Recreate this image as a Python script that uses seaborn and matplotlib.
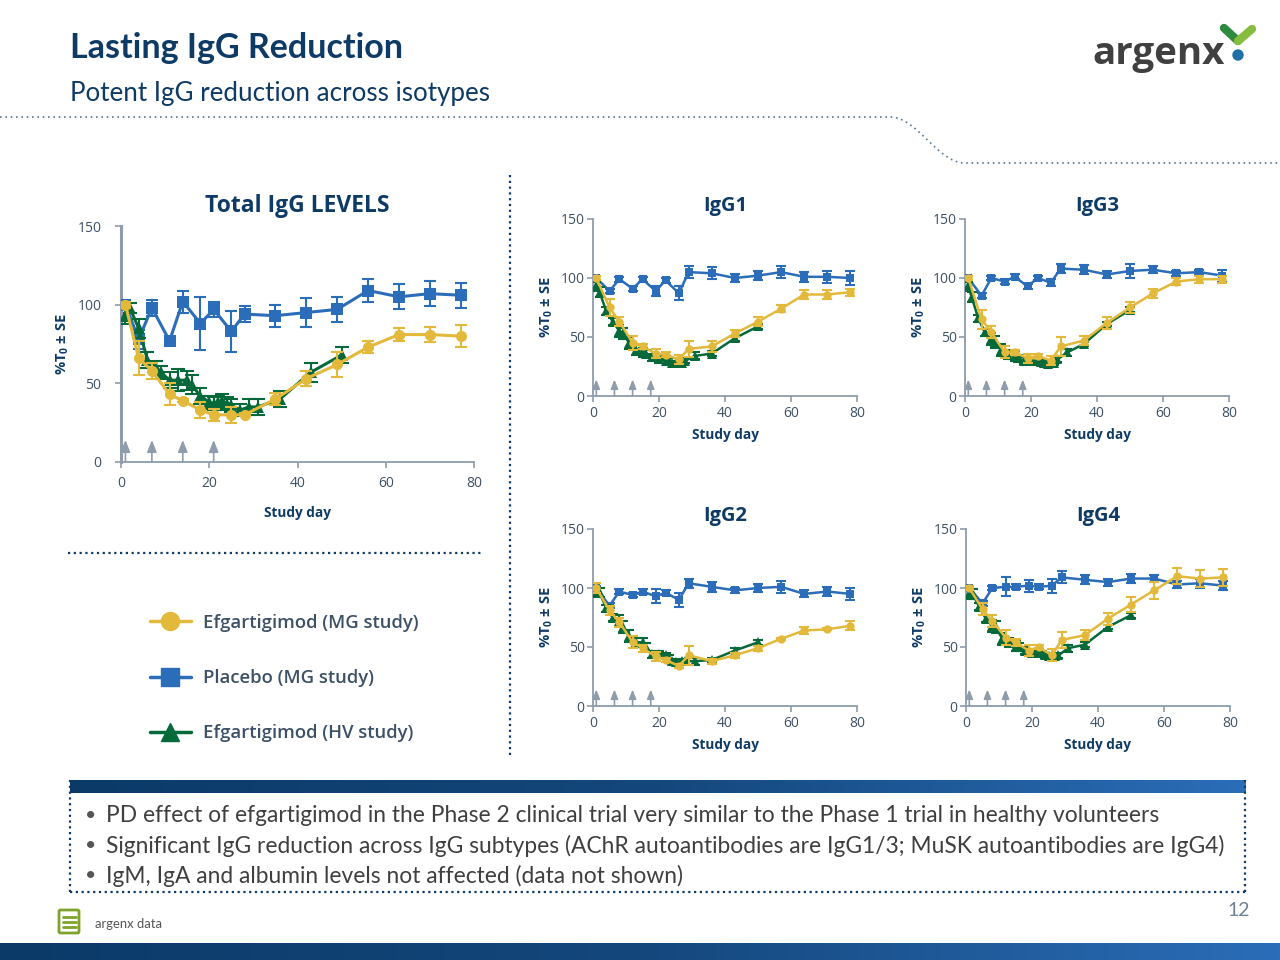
# -*- coding: utf-8 -*-
import numpy as np
import pandas as pd
import seaborn as sns
import matplotlib
matplotlib.use('Agg')
import matplotlib.pyplot as plt
from matplotlib.lines import Line2D
from matplotlib.patches import Circle, FancyBboxPatch
from matplotlib.colors import LinearSegmentedColormap

# days for each group
days_main = [1, 4, 7, 11, 14, 18, 21, 25, 28, 35, 42, 49, 56, 63, 70, 77]
days_sub = [1, 5, 8, 12, 15, 19, 22, 26, 29, 36, 43, 50, 57, 64, 71, 78]
days_hv_main = [1, 2, 4, 6, 8, 9, 11, 13, 15, 16, 18, 20, 21, 22, 23, 24, 25, 27, 29, 31, 36, 43, 50]
days_hv_sub = [1, 2, 4, 6, 8, 9, 11, 13, 15, 16, 18, 20, 22, 23, 24, 25, 27, 28, 31, 36, 43, 50]

# Total IgG
total_pbo = [100, 78, 98, 77, 102, 88, 97, 83, 94, 93, 95, 97, 109, 105, 107, 106]
total_pbo_se = [2, 6, 5, 2, 7, 17, 5, 13, 5, 7, 9, 8, 7, 8, 8, 8]
total_mg = [100, 66, 58, 43, 39, 33, 30, 30, 30, 40, 53, 62, 73, 81, 81, 80]
total_mg_se = [2, 11, 5, 7, 1, 5, 4, 5, 1, 4, 5, 8, 4, 4, 5, 7]
total_hv = [93, 98, 85, 65, 60, 57, 52, 52, 52, 49, 42, 38, 37, 38, 39, 37, 36, 33, 35, 35, 40, 57, 68]
total_hv_se = [5, 3, 6, 5, 4, 4, 5, 7, 6, 6, 5, 4, 4, 4, 4, 4, 4, 4, 5, 5, 5, 6, 5]

# IgG1
g1_pbo = [100, 89, 99, 91, 99, 89, 98, 87, 105, 104, 100, 102, 105, 101, 101, 100]
g1_pbo_se = [2, 2, 2, 2, 2, 4, 2, 6, 5, 5, 3, 4, 5, 4, 5, 6]
g1_mg = [100, 75, 63, 45, 42, 36, 35, 31, 40, 42, 53, 63, 74, 86, 86, 88]
g1_mg_se = [2, 7, 4, 6, 2, 4, 2, 4, 7, 5, 3, 4, 3, 4, 4, 3]
g1_hv = [93, 88, 72, 63, 55, 53, 45, 39, 37, 36, 33, 31, 30, 30, 28, 28, 28, 30, 34, 36, 49, 59]

# IgG3
g3_pbo = [100, 85, 100, 97, 101, 93, 100, 96, 108, 107, 103, 106, 107, 104, 105, 102]
g3_pbo_se = [2, 2, 2, 2, 2, 2, 2, 3, 4, 4, 3, 6, 3, 2, 2, 5]
g3_mg = [100, 65, 54, 37, 37, 32, 34, 30, 42, 47, 62, 75, 87, 97, 99, 99]
g3_mg_se = [2, 8, 5, 5, 2, 4, 2, 4, 8, 4, 5, 5, 4, 3, 3, 3]
g3_hv = [93, 84, 66, 54, 48, 46, 39, 35, 34, 32, 30, 30, 30, 29, 28, 27, 28, 31, 37, 44, 61, 73]

# IgG2
g2_pbo = [100, 85, 97, 94, 97, 93, 96, 90, 104, 101, 98, 100, 101, 95, 97, 95]
g2_pbo_se = [2, 2, 2, 2, 2, 6, 2, 6, 4, 4, 2, 3, 5, 3, 4, 5]
g2_mg = [100, 81, 71, 54, 49, 42, 39, 34, 43, 38, 43, 49, 57, 64, 65, 68]
g2_mg_se = [4, 4, 4, 5, 3, 4, 2, 2, 8, 2, 2, 2, 1, 3, 1, 4]
g2_hv = [96, 96, 83, 75, 72, 67, 59, 54, 54, 50, 44, 44, 43, 41, 38, 37, 38, 38, 38, 39, 47, 54]

# IgG4
g4_pbo = [100, 87, 100, 101, 101, 102, 101, 102, 109, 107, 105, 108, 108, 103, 104, 102]
g4_pbo_se = [2, 2, 2, 8, 2, 5, 2, 6, 5, 4, 3, 4, 3, 3, 4, 4]
g4_mg = [100, 82, 72, 58, 54, 47, 50, 43, 56, 60, 74, 86, 98, 110, 108, 109]
g4_mg_se = [2, 5, 5, 6, 3, 5, 2, 5, 7, 4, 5, 6, 7, 7, 7, 7]
g4_hv = [95, 95, 84, 74, 68, 67, 57, 54, 51, 50, 47, 45, 45, 45, 43, 42, 42, 43, 49, 52, 67, 77]
g_hv_se = [4, 4, 3, 3, 5, 5, 5, 4, 4, 3, 3, 3, 2, 2, 2, 2, 2, 2, 3, 2, 2, 2]

arrows_main = [1, 7, 14, 21]
arrows_sub = [1, 6.5, 12, 17.5]
x_ticks = [0, 20, 40, 60, 80]
y_ticks = [0, 50, 100, 150]

legend_labels = ['Efgartigimod (MG study)', 'Placebo (MG study)', 'Efgartigimod (HV study)']
bullets = ['PD effect of efgartigimod in the Phase 2 clinical trial very similar to the Phase 1 trial in healthy volunteers',
           'Significant IgG reduction across IgG subtypes (AChR autoantibodies are IgG1/3; MuSK autoantibodies are IgG4)',
           'IgM, IgA and albumin levels not affected (data not shown)']

YELLOW = '#E2B93B'
BLUE = '#2B6DB8'
GREEN = '#06693A'
NAVY = '#0E3A66'
GREY = '#8E9CAB'
TICK = '#3D5166'

sns.set_theme(style='white')
plt.rcParams['font.family'] = ['Open Sans', 'DejaVu Sans']
plt.rcParams['mathtext.fontset'] = 'custom'
plt.rcParams['mathtext.rm'] = 'Open Sans'
plt.rcParams['mathtext.bf'] = 'Open Sans:bold'

W, H = 1280, 960
fig = plt.figure(figsize=(12.8, 9.6), dpi=100, facecolor='white')

# page layer in pixel coordinates
bg = fig.add_axes([0, 0, 1, 1])
bg.axis('off')

band = LinearSegmentedColormap.from_list('band', ['#0B3A68', '#14477C', '#2B6DB8'])
grad = np.linspace(0, 1, 256).reshape(1, -1)
bg.imshow(grad, extent=(70, 1246, 793, 780), cmap=band, aspect='auto', zorder=1)
bg.imshow(grad, extent=(0, 1280, 960, 943), cmap=band, aspect='auto', zorder=1)
bg.set_xlim(0, W)
bg.set_ylim(H, 0)

# dotted rules
dot = dict(ls=(0, (1, 1.6)), lw=1.6, color=NAVY)
bg.plot([70, 70], [780, 892], **dot)
bg.plot([1245, 1245], [780, 892], **dot)
bg.plot([70, 1245], [892, 892], **dot)
bg.plot([510, 510], [175, 758], **dot)
bg.plot([68, 481], [553, 553], **dot)
t = np.linspace(0, 1, 40)
curve_x = 890 + 75 * t
curve_y = 117 + 46 * (0.5 - 0.5 * np.cos(np.pi * t))
bg.plot(np.r_[0, curve_x, 1280], np.r_[117, curve_y, 163], ls=(0, (1, 2.2)), lw=1.2, color='#5C7890')

# header text
bg.text(70, 47.5, 'Lasting IgG Reduction', family='Lato', fontsize=24.5, fontweight='bold', color=NAVY, va='center')
bg.text(70, 93.5, 'Potent IgG reduction across isotypes', family='Lato', fontsize=18.7, color=NAVY, va='center')

# logo
bg.text(1092, 54, 'argenx', family='Open Sans', fontsize=27.7, fontweight='bold', color='#404040', va='center')
bg.plot([1224, 1238], [28, 41], color='#2E8B3D', lw=6, solid_capstyle='round')
bg.plot([1238, 1252], [41, 29], color='#86BC3F', lw=6, solid_capstyle='round')
bg.add_patch(Circle((1238, 55), 5, color='#1F6FA8'))

# bullets
for y, line in zip([816, 846, 876], bullets):
    bg.text(85, y, '•', family='Lato', fontsize=14, color='#555555', va='center')
    bg.text(106, y, line, family='Lato', fontsize=16.4, color='#3F3F3F', va='center')

# footer
bg.text(1250, 910.5, '12', family='Lato', fontsize=14, color='#6F8296', ha='right', va='center')
bg.text(95, 924, 'argenx data', family='Lato', fontsize=9.4, color='#555555', va='center')
bg.add_patch(FancyBboxPatch((59, 910), 20, 23, boxstyle='round,pad=0,rounding_size=1.5', fc='white', ec='#7FA32C', lw=2))
for y in [917, 922, 927]:
    bg.plot([63, 76], [y, y], color='#7FA32C', lw=2)

# legend
handles = [Line2D([], [], color=YELLOW, marker='o', lw=2.5, ms=13),
           Line2D([], [], color=BLUE, marker='s', lw=2.5, ms=13),
           Line2D([], [], color=GREEN, marker='^', lw=2.5, ms=13)]
leg = fig.legend(handles, legend_labels, loc='upper left', bbox_to_anchor=(150 / W, 1 - 613.5 / H),
                 bbox_transform=fig.transFigure, frameon=False, borderpad=0, borderaxespad=0,
                 handlelength=2.2, handletextpad=0.65, labelspacing=2.03,
                 prop={'family': 'Open Sans', 'size': 13.3, 'weight': 'semibold'})
for txt in leg.get_texts():
    txt.set_color(TICK)


def draw_series(ax, days, vals, se, color, marker, ms, z, lw):
    df = pd.DataFrame({'day': days, 'value': vals})
    if se is not None:
        ax.errorbar(days, vals, yerr=se, fmt='none', ecolor=color, elinewidth=1.5,
                    capsize=ms * 0.55, capthick=1.5, zorder=z)
    sns.lineplot(data=df, x='day', y='value', ax=ax, color=color, marker=marker, markersize=ms,
                 markeredgewidth=0, linewidth=lw, estimator=None, errorbar=None, zorder=z + 0.5, legend=False)


def panel(rect, title, days, hv_days, pbo, pbo_se, mg, mg_se, hv, hv_se, arrows, big=False):
    x0, x1, ytop, ybot = rect
    ax = fig.add_axes([x0 / W, 1 - ybot / H, (x1 - x0) / W, (ybot - ytop) / H])
    ax.patch.set_alpha(0)
    ms = 8 if big else 6
    lw = 2.2 if big else 1.8
    draw_series(ax, days, pbo, pbo_se, BLUE, 's', ms, 3, lw)
    draw_series(ax, hv_days, hv, hv_se, GREEN, '^', ms + 1, 4, lw)
    draw_series(ax, days, mg, mg_se, YELLOW, 'o', ms, 5, lw)
    for a in arrows:
        ax.annotate('', xy=(a, 14), xytext=(a, 0),
                    arrowprops=dict(arrowstyle='-|>,head_length=0.6,head_width=0.24', color=GREY, lw=1.2,
                                    mutation_scale=12 if big else 9, shrinkA=0, shrinkB=0))
    ax.set_xlim(0, 80)
    ax.set_ylim(0, 150)
    ax.set_xticks(x_ticks)
    ax.set_yticks(y_ticks)
    sns.despine(ax=ax)
    for s in ['left', 'bottom']:
        ax.spines[s].set_color(GREY)
    ax.spines['left'].set_linewidth(2.2 if big else 1.3)
    ax.spines['bottom'].set_linewidth(1.3)
    ax.tick_params(axis='both', length=4, width=1.2, color=GREY, labelcolor=TICK, labelsize=10, bottom=True, left=True)
    ax.tick_params(axis='y', pad=10 if big else 2)
    ax.tick_params(axis='x', pad=6 if big else 3)
    ax.set_xlabel('Study day', fontsize=9.8, fontweight='bold', color=NAVY, labelpad=11 if big else 5)
    ax.set_ylabel(r'%T$_{\mathbf{0}}$ ± SE', fontsize=10.5, fontweight='bold', color=NAVY, labelpad=5 if big else 4)
    ax.set_title(title, fontsize=16.5 if big else 14.5, fontweight='bold', color=NAVY, pad=10 if big else 6)
    return ax


panel((121, 474, 226, 462), 'Total IgG LEVELS', days_main, days_hv_main, total_pbo, total_pbo_se,
      total_mg, total_mg_se, total_hv, total_hv_se, arrows_main, big=True)
panel((593, 857, 219, 396), 'IgG1', days_sub, days_hv_sub, g1_pbo, g1_pbo_se, g1_mg, g1_mg_se, g1_hv, g_hv_se, arrows_sub)
panel((965, 1229, 219, 396), 'IgG3', days_sub, days_hv_sub, g3_pbo, g3_pbo_se, g3_mg, g3_mg_se, g3_hv, g_hv_se, arrows_sub)
panel((593, 857, 529, 706), 'IgG2', days_sub, days_hv_sub, g2_pbo, g2_pbo_se, g2_mg, g2_mg_se, g2_hv, g_hv_se, arrows_sub)
panel((966, 1230, 529, 706), 'IgG4', days_sub, days_hv_sub, g4_pbo, g4_pbo_se, g4_mg, g4_mg_se, g4_hv, g_hv_se, arrows_sub)

fig.savefig('out.png', dpi=100)
